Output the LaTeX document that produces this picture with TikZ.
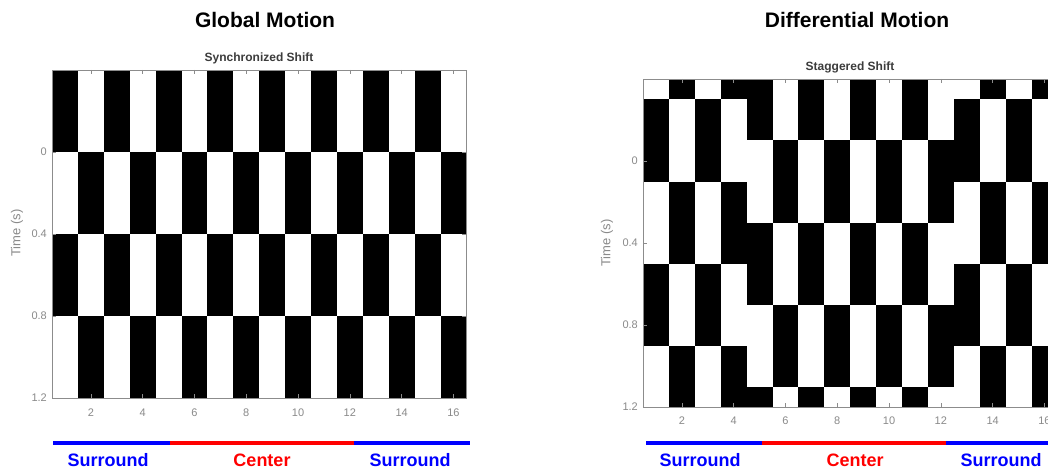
\documentclass[tikz,border=0pt]{standalone}
\usepackage{fontspec}
\setmainfont{Liberation Sans}
\usetikzlibrary{positioning}
\definecolor{axisgray}{HTML}{8C8C8C}
\definecolor{labelgray}{HTML}{8A8A8A}
\definecolor{titlegray}{HTML}{3C3C3C}
\definecolor{surblue}{HTML}{0000FF}
\definecolor{cenred}{HTML}{FF0000}
\tikzset{
  frame/.style={draw=axisgray,line width=0.8pt},
  axtick/.style={draw=axisgray,line width=0.6pt},
  ticklab/.style={font=\fontsize{11}{12}\selectfont,text=labelgray,inner sep=0pt},
  cell/.style={fill=black},
  figtitle/.style={font=\fontsize{21}{24}\selectfont\bfseries,inner sep=0pt},
  axtitle/.style={font=\fontsize{12}{13}\selectfont\bfseries,text=titlegray,inner sep=0pt},
  regionbar/.style={line width=4pt},
  regionlab/.style={font=\fontsize{18}{20}\selectfont\bfseries,inner sep=0pt}
}

\begin{document}
\begin{tikzpicture}[x=1pt,y=-1pt]
  \fill[white] (0,0) rectangle (1048,470);
  \clip (0,0) rectangle (1048,470);
  % ---- panel A: all columns switch together ----
  \node[figtitle] (globtitle) at (265,20) {Global Motion};
  \node[axtitle] (synctitle) at (259,58) {Synchronized Shift};
  \begin{scope}[shift={(39.05,152)},x=25.9pt,y=-205pt]
    \foreach \c in {1,3,...,15} {
      \fill[cell] (\c-0.5,-0.4) rectangle (\c+0.5,0);
      \fill[cell] (\c-0.5,0.4) rectangle (\c+0.5,0.8);
    }
    \foreach \c in {2,4,...,16} {
      \fill[cell] (\c-0.5,0) rectangle (\c+0.5,0.4);
      \fill[cell] (\c-0.5,0.8) rectangle (\c+0.5,1.2);
    }
    \draw[frame] (0.5,-0.4) rectangle (16.5,1.2);
    \foreach \t in {0,0.4,0.8,1.2} {
      \draw[axtick] (0.5,\t) -- ++(4pt,0);
      \draw[axtick] (16.5,\t) -- ++(-4pt,0);
      \node[ticklab,anchor=east,xshift=-5pt] (synct\t) at (0.5,\t) {\t};
    }
    \foreach \c in {2,4,...,16} {
      \draw[axtick] (\c,1.2) -- ++(0,4pt);
      \draw[axtick] (\c,-0.4) -- ++(0,-4pt);
      \node[ticklab,yshift=-15pt] (syncx\c) at (\c,1.2) {\c};
    }
  \end{scope}
  \node[ticklab,font=\fontsize{13}{14}\selectfont,rotate=90] (synctime) at (17,233) {Time (s)};
  \draw[regionbar,surblue] (53,443) -- (170,443);
  \draw[regionbar,cenred] (170,443) -- (354,443);
  \draw[regionbar,surblue] (354,443) -- (470,443);
  \node[regionlab,text=surblue] (syncsurl) at (108,460) {Surround};
  \node[regionlab,text=cenred] (synccen) at (262,460) {Center};
  \node[regionlab,text=surblue] (syncsurr) at (410,460) {Surround};
  % ---- panel B: centre and surround out of step ----
  \node[figtitle] (difftitle) at (857,20) {Differential Motion};
  \node[axtitle] (stagtitle) at (850,67) {Staggered Shift};
  \begin{scope}[shift={(630.05,161)},x=25.9pt,y=-205pt]
    % surround columns
    \foreach \c in {1,3,13,15} {
      \fill[cell] (\c-0.5,-0.3) rectangle (\c+0.5,0.1);
      \fill[cell] (\c-0.5,0.5) rectangle (\c+0.5,0.9);
    }
    \foreach \c in {2,4,14,16} {
      \fill[cell] (\c-0.5,-0.4) rectangle (\c+0.5,-0.3);
      \fill[cell] (\c-0.5,0.1) rectangle (\c+0.5,0.5);
      \fill[cell] (\c-0.5,0.9) rectangle (\c+0.5,1.2);
    }
    % centre columns
    \foreach \c in {5,7,9,11} {
      \fill[cell] (\c-0.5,-0.4) rectangle (\c+0.5,-0.1);
      \fill[cell] (\c-0.5,0.3) rectangle (\c+0.5,0.7);
      \fill[cell] (\c-0.5,1.1) rectangle (\c+0.5,1.2);
    }
    \foreach \c in {6,8,10,12} {
      \fill[cell] (\c-0.5,-0.1) rectangle (\c+0.5,0.3);
      \fill[cell] (\c-0.5,0.7) rectangle (\c+0.5,1.1);
    }
    \draw[frame] (0.5,-0.4) rectangle (16.5,1.2);
    \foreach \t in {0,0.4,0.8,1.2} {
      \draw[axtick] (0.5,\t) -- ++(4pt,0);
      \node[ticklab,anchor=east,xshift=-5pt] (stagt\t) at (0.5,\t) {\t};
    }
    \foreach \c in {2,4,...,16} {
      \draw[axtick] (\c,1.2) -- ++(0,4pt);
      \draw[axtick] (\c,-0.4) -- ++(0,-4pt);
      \node[ticklab,yshift=-14pt] (stagx\c) at (\c,1.2) {\c};
    }
  \end{scope}
  \node[ticklab,font=\fontsize{13}{14}\selectfont,rotate=90] (stagtime) at (607,243) {Time (s)};
  \draw[regionbar,surblue] (646,443) -- (762,443);
  \draw[regionbar,cenred] (762,443) -- (946,443);
  \draw[regionbar,surblue] (946,443) -- (1060,443);
  \node[regionlab,text=surblue] (stagsurl) at (700,460) {Surround};
  \node[regionlab,text=cenred] (stagcen) at (855,460) {Center};
  \node[regionlab,text=surblue] (stagsurr) at (1001,460) {Surround};
\end{tikzpicture}
\end{document}
